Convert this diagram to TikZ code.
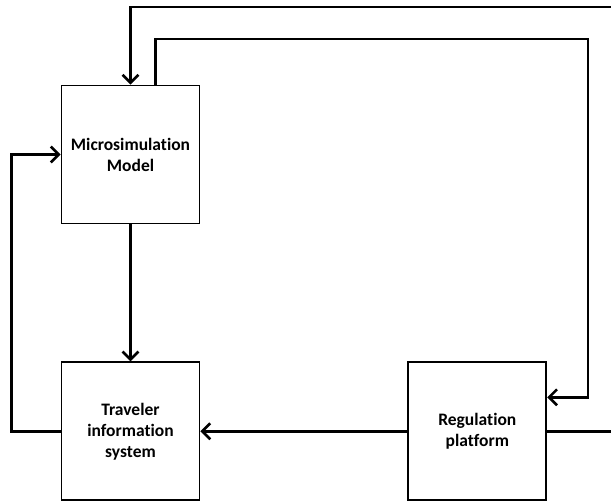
\documentclass[tikz,border=0pt]{standalone}
\usepackage{fontspec}
\setmainfont{Carlito}[Ligatures=NoCommon]
\usetikzlibrary{positioning}
\usetikzlibrary{arrows.meta}

\begin{document}
\begin{tikzpicture}[
  x=1pt, y=-1pt,
  every path/.style={line width=2.6pt},
  box/.style={draw, line width=1.8pt, minimum width=138pt, minimum height=138pt,
    inner sep=0, align=center, font=\bfseries\fontsize{17.5}{21}\selectfont},
  ar/.style={-{Straight Barb[length=8pt,width=16pt,line width=2.6pt]}},
  node distance=137pt
  ] %
    \useasboundingbox (0,0) rectangle (611,502);
    \node[box] at (130.5,154.5) (micro){Microsimulation\\Model};
    \node[box, below=of micro] (tis){Traveler\\information\\system};
    \node[box, right=207pt of tis] (reg){Regulation\\platform};
    % free ends at the right edge
    \coordinate (topin) at (611,7);
    \coordinate (turn) at (588,39);
    \coordinate (edge) at (611,0);
    \draw[ar] (topin) -| (micro.north);
    \draw[ar] ([xshift=25pt]micro.north) |- (turn) |- ([yshift=34pt]reg.east);
    \draw[ar] (micro) -- (tis);
    \draw[ar] (reg) -- (tis);
    \draw[ar] (tis.west) -- ++(-49,0) |- (micro.west);
    \draw (reg.east) -- (reg.east -| edge);
  \end{tikzpicture}
\end{document}
